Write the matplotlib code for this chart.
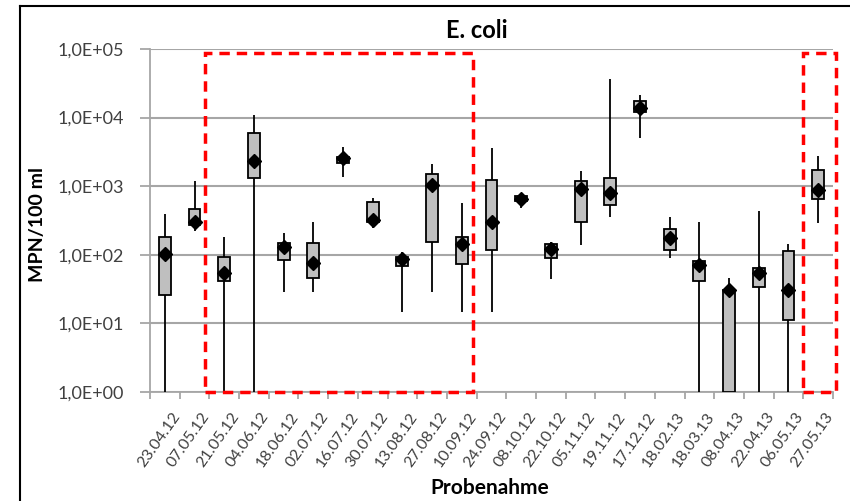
import numpy as np
import matplotlib
matplotlib.use('Agg')
import matplotlib.pyplot as plt
from matplotlib.patches import Rectangle
from matplotlib.ticker import FixedLocator, FuncFormatter, NullLocator
from matplotlib import transforms

plt.rcParams['font.family'] = ['Lato', 'DejaVu Sans']

# Probenahme-Termine
dates = ['23.04.12', '07.05.12', '21.05.12', '04.06.12', '18.06.12', '02.07.12',
         '16.07.12', '30.07.12', '13.08.12', '27.08.12', '10.09.12', '24.09.12',
         '08.10.12', '22.10.12', '05.11.12', '19.11.12', '17.12.12', '18.02.13',
         '18.03.13', '08.04.13', '22.04.13', '06.05.13', '27.05.13']

# E. coli, MPN/100 ml
high = [395, 1200, 179, 10800, 207, 296, 3700, 684, 109, 2110, 565, 3570,
        773, 156, 1670, 36100, 21400, 350, 305, 45.7, 428, 143, 2800]
box_top = [181, 462, 92.5, 5910, 151, 150, 2700, 585, 92.5, 1510, 181, 1250,
           715, 143, 1200, 1320, 17500, 239, 82, 30.3, 64, 113, 1750]
box_bottom = [25.6, 274, 41.4, 1310, 84.5, 45.7, 2160, 299, 69.2, 156, 73, 117,
              605, 91, 299, 535, 11970, 117, 41.8, 1.0, 34.2, 11.1, 640]
low = [1.0, 224, 1.0, 1.0, 29, 29, 1350, 244, 14.5, 29, 14.5, 14.5,
       479, 44.7, 140, 361, 5000, 91, 1.0, 1.0, 1.0, 1.0, 286]
mean = [104, 305, 54, 2340, 128, 77, 2560, 324, 86.5, 1045, 145, 305,
        655, 121, 904, 790, 13700, 175, 71.4, 30.3, 54, 30.3, 885]

# markierte Bereiche (Kategorie-Index von/bis)
highlight_ranges = [(1.35, 10.38), (21.49, 22.6)]

x = np.arange(len(dates))

fig = plt.figure(figsize=(8.5, 5.01), dpi=100)
ax = fig.add_axes([150/850, 1 - 392/501, 683/850, 343/501])

ax.set_yscale('log')
ax.set_ylim(1, 1e5)
ax.set_xlim(-0.5, len(dates) - 0.5)

ax.vlines(x, low, high, color='black', lw=1.3, zorder=3)
ax.bar(x, np.array(box_top) - np.array(box_bottom), bottom=box_bottom, width=0.4,
       color='#bfbfbf', edgecolor='black', linewidth=1.3, zorder=4)
ax.plot(x, mean, 'D', color='black', markersize=7, zorder=5, ls='none')

# Gitter und Achsen
ax.yaxis.set_major_locator(FixedLocator([1, 10, 100, 1e3, 1e4, 1e5]))
ax.yaxis.set_minor_locator(NullLocator())
ax.yaxis.set_major_formatter(FuncFormatter(lambda v, p: '1,0E+%02d' % round(np.log10(v))))
ax.grid(axis='y', color='#a6a6a6', lw=1.5, zorder=0)
ax.set_axisbelow(True)
for s in ['top', 'right']:
    ax.spines[s].set_visible(False)
for s in ['left', 'bottom']:
    ax.spines[s].set_color('#a6a6a6')
    ax.spines[s].set_linewidth(1.3)

ax.set_xticks(x)
ax.set_xticklabels([])
ax.set_xticks(np.arange(len(dates) + 1) - 0.5, minor=True)
ax.tick_params(axis='x', which='major', length=0)
ax.tick_params(axis='x', which='minor', length=5, color='#a6a6a6', width=1.3)
ax.tick_params(axis='y', length=7, color='#a6a6a6', width=1.3, labelsize=13,
               labelcolor='#404040', pad=12)

lab_trans = transforms.offset_copy(ax.get_xaxis_transform(), fig=fig, x=0, y=-18, units='dots')
for i, d in enumerate(dates):
    ax.text(i + 0.22, 0, d, rotation=55, ha='right', va='top',
            rotation_mode='anchor', fontsize=11.5, color='#404040',
            transform=lab_trans)

fig.text(477/850, 1 - 38/501, 'E. coli', ha='center', va='baseline',
         fontsize=17, fontweight='bold')
fig.text(490/850, 1 - 488/501, 'Probenahme', ha='center', va='center',
         fontsize=15, fontweight='bold')
fig.text(38/850, 1 - 225/501, 'MPN/100 ml', ha='center', va='center',
         rotation=90, fontsize=14, fontweight='bold')

# rote Markierungen
for a, b in highlight_ranges:
    r = Rectangle((a, 1.0), b - a, 10**4.94 - 1.0, fill=False, edgecolor='red',
                  lw=2.5, ls=(0, (3, 2)), clip_on=False, zorder=6)
    ax.add_patch(r)

# Rahmen des Diagramms
fig.add_artist(plt.Line2D([20/850, 20/850], [0, 1 - 6/501], color='black', lw=1.5))
fig.add_artist(plt.Line2D([20/850, 1], [1 - 6/501, 1 - 6/501], color='black', lw=1.5))

fig.savefig('out.png', dpi=100)
